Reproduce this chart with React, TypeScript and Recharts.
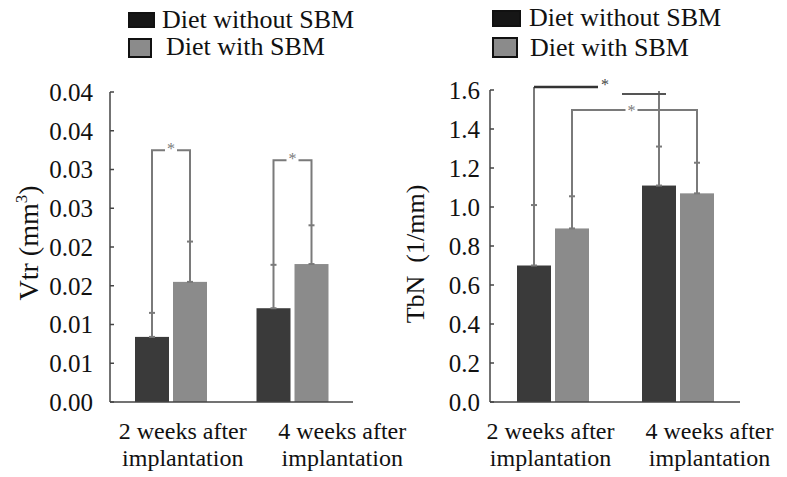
import React from "react";
import { BarChart, Bar, XAxis, YAxis, ErrorBar, Legend } from "recharts";

const FONT = '"Liberation Serif", "Times New Roman", serif';
const AXIS = "#444";
const LINE = "#7a7a7a";
const DARK = "#3a3a3a";
const GRAY = "#8b8b8b";
const BAR_GAP = 4;

const categories = ["2 weeks after", "4 weeks after"];
const categorySub = ["implantation", "implantation"];
const seriesNames = ["Diet without SBM", "Diet with SBM"];

// Vtr (mm3)
const vtrWithout = [0.0084, 0.0121];
const vtrWithoutErr = [0.0031, 0.0056];
const vtrWith = [0.0155, 0.0178];
const vtrWithErr = [0.0052, 0.005];
const vtrBracket = [0.0325, 0.0312];
const vtrTicks = [0, 0.005, 0.01, 0.015, 0.02, 0.025, 0.03, 0.035, 0.04];
const vtrTickLabels = ["0.00", "0.01", "0.01", "0.02", "0.02", "0.03", "0.03", "0.04", "0.04"];

// TbN (1/mm)
const tbnWithout = [0.7, 1.11];
const tbnWithoutErr = [0.31, 0.2];
const tbnWith = [0.89, 1.07];
const tbnWithErr = [0.165, 0.157];
const tbnWithoutTop = [1.615, 1.595];
const tbnCrossLevel = 1.58;
const tbnWithBracket = 1.497;
const tbnTicks = [0, 0.2, 0.4, 0.6, 0.8, 1.0, 1.2, 1.4, 1.6];
const tbnTickLabels = ["0.0", "0.2", "0.4", "0.6", "0.8", "1.0", "1.2", "1.4", "1.6"];

const vtrRows = categories.map((c, i) => ({
  name: c,
  without: vtrWithout[i],
  withoutErr: [0, vtrWithoutErr[i]],
  with: vtrWith[i],
  withErr: [0, vtrWithErr[i]],
}));

const tbnRows = categories.map((c, i) => ({
  name: c,
  without: tbnWithout[i],
  withoutErr: [0, tbnWithoutErr[i]],
  with: tbnWith[i],
  withErr: [0, tbnWithErr[i]],
}));

// chart geometry
const L_W = 420, L_YW = 110, L_MR = 67, L_MT = 92;
const R_W = 397, R_YW = 100, R_MR = 47, R_MT = 90;
const H = 477, XH = 75;
const R_BAND = (R_W - R_YW - R_MR) / 2;

// value -> pixel y, taken from the bar's own geometry
const toPx = (p: any, v: number) => {
  const base = p.y + p.height;
  return (val: number) => base - (val * p.height) / v;
};

const Star = ({ x, y, fill = LINE }: any) => (
  <text x={x} y={y + 6} textAnchor="middle" fontSize={16} fill={fill} fontFamily={FONT}>
    *
  </text>
);

const VtrWithoutShape = (p: any) => {
  const i = p.index;
  const py = toPx(p, vtrWithout[i]);
  const cx = p.x + p.width / 2;
  const top = py(vtrWithout[i] + vtrWithoutErr[i]);
  const lvl = py(vtrBracket[i]);
  const mid = p.x + p.width + BAR_GAP / 2;
  return (
    <g>
      <rect x={p.x} y={p.y} width={p.width} height={p.height} fill={DARK} />
      <path d={`M${cx},${top}V${lvl}H${mid - 6}`} stroke={LINE} strokeWidth={2} fill="none" />
      <Star x={mid} y={lvl - 2} />
    </g>
  );
};

const VtrWithShape = (p: any) => {
  const i = p.index;
  const py = toPx(p, vtrWith[i]);
  const cx = p.x + p.width / 2;
  const top = py(vtrWith[i] + vtrWithErr[i]);
  const lvl = py(vtrBracket[i]);
  const mid = p.x - BAR_GAP / 2;
  return (
    <g>
      <rect x={p.x} y={p.y} width={p.width} height={p.height} fill={GRAY} />
      <path d={`M${cx},${top}V${lvl}H${mid + 6}`} stroke={LINE} strokeWidth={2} fill="none" />
    </g>
  );
};

const TbnWithoutShape = (p: any) => {
  const i = p.index;
  const py = toPx(p, tbnWithout[i]);
  const cx = p.x + p.width / 2;
  const top = py(tbnWithout[i] + tbnWithoutErr[i]);
  const lvl = py(tbnWithoutTop[i]);
  return (
    <g>
      <rect x={p.x} y={p.y} width={p.width} height={p.height} fill={DARK} />
      <line x1={cx} y1={top} x2={cx} y2={lvl} stroke={LINE} strokeWidth={2} />
      {i === 0 ? (
        <g>
          <line x1={cx} y1={lvl} x2={cx + 64} y2={lvl} stroke="#333" strokeWidth={2.5} />
          <Star x={cx + 71} y={lvl - 3} fill="#444" />
        </g>
      ) : (
        <line x1={cx - 37} y1={py(tbnCrossLevel)} x2={cx + 7} y2={py(tbnCrossLevel)} stroke="#555" strokeWidth={2} />
      )}
    </g>
  );
};

const TbnWithShape = (p: any) => {
  const i = p.index;
  const py = toPx(p, tbnWith[i]);
  const cx = p.x + p.width / 2;
  const top = py(tbnWith[i] + tbnWithErr[i]);
  const lvl = py(tbnWithBracket);
  const star = i === 0 ? cx + R_BAND / 2 - 3 : cx - R_BAND / 2 - 3;
  const end = i === 0 ? star - 6 : star + 6;
  return (
    <g>
      <rect x={p.x} y={p.y} width={p.width} height={p.height} fill={GRAY} />
      <path d={`M${cx},${top}V${lvl}H${end}`} stroke={LINE} strokeWidth={2} fill="none" />
      {i === 0 && <Star x={star} y={lvl} />}
    </g>
  );
};

const XTick = (props: any) => {
  const { x, y, payload, shifts } = props;
  const i = props.index ?? payload.index;
  const tx = x + shifts[i];
  return (
    <text x={tx} y={y} textAnchor="middle" fontSize={24} fill="#111" fontFamily={FONT}>
      <tspan x={tx} dy={37}>{categories[i]}</tspan>
      <tspan x={tx} dy={27}>{categorySub[i]}</tspan>
    </text>
  );
};

const VtrTitle = () => (
  <text transform="translate(38,243) rotate(-90)" textAnchor="middle" fontSize={28} fill="#111" fontFamily={FONT}>
    <tspan>Vtr (mm</tspan>
    <tspan fontSize={17} dy={-11}>3</tspan>
    <tspan dy={11}>)</tspan>
  </text>
);

const TbnTitle = () => (
  <text transform="translate(34,254) rotate(-90)" textAnchor="middle" fontSize={26} fill="#111" fontFamily={FONT}>
    {"TbN\u00a0 (1/mm)"}
  </text>
);

const legendRowsLeft = [
  { h: 27, bt: 6, bw: 27, bh: 16, fill: "#161616", tx: 34 },
  { h: 27, bt: 5, bw: 24, bh: 20, fill: GRAY, tx: 38 },
];
const legendRowsRight = [
  { h: 30, bt: 7, bw: 29, bh: 17, fill: "#161616", tx: 37 },
  { h: 30, bt: 4, bw: 26, bh: 21, fill: GRAY, tx: 38 },
];

const LegendContent = ({ rows }: any) => (
  <div style={{ fontFamily: FONT, fontSize: 26, color: "#111", width: 240 }}>
    {seriesNames.map((name, i) => {
      const r = rows[i];
      return (
        <div key={name} style={{ position: "relative", height: r.h, lineHeight: r.h + "px", whiteSpace: "nowrap" }}>
          <span
            style={{
              position: "absolute",
              left: 0,
              top: r.bt,
              width: r.bw,
              height: r.bh,
              background: r.fill,
              border: "2px solid #111",
              boxSizing: "border-box",
            }}
          />
          <span style={{ position: "absolute", left: r.tx, top: 0, fontFamily: FONT }}>{name}</span>
        </div>
      );
    })}
  </div>
);

export default function App() {
  return (
    <div
      style={{
        position: "absolute",
        left: 0,
        top: 0,
        width: 787,
        height: H,
        background: "#fff",
        overflow: "hidden",
        fontFamily: FONT,
      }}
    >
      <div style={{ position: "absolute", left: 0, top: 0 }}>
        <BarChart
          width={L_W}
          height={H}
          data={vtrRows}
          margin={{ top: L_MT, right: L_MR, bottom: 0, left: 0 }}
          barSize={34}
          barGap={BAR_GAP}
          style={{ fontFamily: FONT }}
        >
          <XAxis
            dataKey="name"
            height={XH}
            tickLine={false}
            tickSize={0}
            tickMargin={0}
            interval={0}
            axisLine={{ stroke: AXIS, strokeWidth: 1.5 }}
            tick={<XTick shifts={[12, 50]} />}
          />
          <YAxis
            domain={[0, 0.04]}
            ticks={vtrTicks}
            interval={0}
            tickFormatter={(v: number, i: number) => vtrTickLabels[i]}
            width={L_YW}
            tickSize={-4}
            tickMargin={21}
            axisLine={{ stroke: AXIS, strokeWidth: 1.5 }}
            tickLine={{ stroke: AXIS, strokeWidth: 1.5 }}
            tick={{ fontSize: 25, fill: "#111", fontFamily: FONT }}
            label={<VtrTitle />}
          />
          <Legend
            layout="vertical"
            align="center"
            verticalAlign="middle"
            wrapperStyle={{ top: 6, left: 128, width: 240 }}
            content={() => <LegendContent rows={legendRowsLeft} />}
          />
          <Bar dataKey="without" name={seriesNames[0]} fill={DARK} shape={VtrWithoutShape} isAnimationActive={false}>
            <ErrorBar dataKey="withoutErr" width={3} stroke={LINE} strokeWidth={2} isAnimationActive={false} />
          </Bar>
          <Bar dataKey="with" name={seriesNames[1]} fill={GRAY} shape={VtrWithShape} isAnimationActive={false}>
            <ErrorBar dataKey="withErr" width={3} stroke={LINE} strokeWidth={2} isAnimationActive={false} />
          </Bar>
        </BarChart>
      </div>
      <div style={{ position: "absolute", left: 390, top: 0 }}>
        <BarChart
          width={R_W}
          height={H}
          data={tbnRows}
          margin={{ top: R_MT, right: R_MR, bottom: 0, left: 0 }}
          barSize={34}
          barGap={BAR_GAP}
          style={{ fontFamily: FONT }}
        >
          <XAxis
            dataKey="name"
            height={XH}
            tickLine={false}
            tickSize={0}
            tickMargin={0}
            interval={0}
            axisLine={{ stroke: AXIS, strokeWidth: 1.5 }}
            tick={<XTick shifts={[-2, 32]} />}
          />
          <YAxis
            domain={[0, 1.6]}
            ticks={tbnTicks}
            interval={0}
            tickFormatter={(v: number, i: number) => tbnTickLabels[i]}
            width={R_YW}
            tickSize={-4}
            tickMargin={14}
            axisLine={{ stroke: AXIS, strokeWidth: 1.5 }}
            tickLine={{ stroke: AXIS, strokeWidth: 1.5 }}
            tick={{ fontSize: 25, fill: "#111", fontFamily: FONT }}
            label={<TbnTitle />}
          />
          <Legend
            layout="vertical"
            align="center"
            verticalAlign="middle"
            wrapperStyle={{ top: 3, left: 102, width: 240 }}
            content={() => <LegendContent rows={legendRowsRight} />}
          />
          <Bar dataKey="without" name={seriesNames[0]} fill={DARK} shape={TbnWithoutShape} isAnimationActive={false}>
            <ErrorBar dataKey="withoutErr" width={3} stroke={LINE} strokeWidth={2} isAnimationActive={false} />
          </Bar>
          <Bar dataKey="with" name={seriesNames[1]} fill={GRAY} shape={TbnWithShape} isAnimationActive={false}>
            <ErrorBar dataKey="withErr" width={3} stroke={LINE} strokeWidth={2} isAnimationActive={false} />
          </Bar>
        </BarChart>
      </div>
    </div>
  );
}
